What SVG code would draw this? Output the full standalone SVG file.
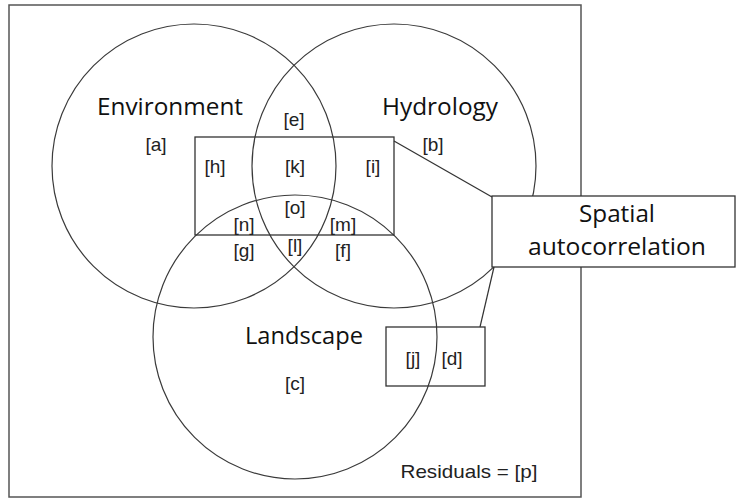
<svg xmlns="http://www.w3.org/2000/svg" width="740" height="498" viewBox="0 0 740 498">
  <style>
    .frame { fill: none; stroke: #555; stroke-width: 1.5; }
    .set { fill: none; stroke: #3a3a3a; stroke-width: 1.2; }
    .box { fill: none; stroke: #333; stroke-width: 1.3; }
    .callout { fill: #fff; stroke: #333; stroke-width: 1.3; }
    .link { fill: none; stroke: #333; stroke-width: 1.2; }
    .title { font-family: "Open Sans", "Noto Sans", sans-serif; font-size: 23px; fill: #111; text-anchor: middle; }
    .part { font-family: "Liberation Sans", Arial, sans-serif; font-size: 19px; fill: #222; text-anchor: middle; }
  </style>

  <rect width="740" height="498" fill="#fff"/>

  <!-- residual frame -->
  <g id="frame">
    <rect class="frame" x="9" y="5" width="572" height="492"/>
    <text class="part" x="469" y="478" textLength="137" lengthAdjust="spacingAndGlyphs">Residuals = [p]</text>
  </g>

  <!-- three sets -->
  <g id="environment">
    <circle class="set" cx="194" cy="166" r="142"/>
    <text class="title" x="170" y="115" textLength="146" lengthAdjust="spacingAndGlyphs">Environment</text>
    <text class="part" x="156" y="151">[a]</text>
  </g>
  <g id="hydrology">
    <circle class="set" cx="394" cy="166" r="142"/>
    <text class="title" x="440" y="115" textLength="116" lengthAdjust="spacingAndGlyphs">Hydrology</text>
    <text class="part" x="433" y="151">[b]</text>
  </g>
  <g id="landscape">
    <circle class="set" cx="295" cy="337" r="142"/>
    <text class="title" x="304" y="344" textLength="118" lengthAdjust="spacingAndGlyphs">Landscape</text>
    <text class="part" x="295" y="390">[c]</text>
  </g>

  <!-- intersection parts -->
  <g id="overlaps">
    <text class="part" x="294" y="126">[e]</text>
    <text class="part" x="244" y="257">[g]</text>
    <text class="part" x="343" y="257">[f]</text>
    <text class="part" x="295" y="252">[l]</text>
  </g>

  <!-- spatial region over the sets -->
  <g id="spatial-region">
    <rect class="box" x="195" y="137" width="199" height="98"/>
    <text class="part" x="215" y="173">[h]</text>
    <text class="part" x="295" y="173">[k]</text>
    <text class="part" x="373" y="173">[i]</text>
    <text class="part" x="295" y="214">[o]</text>
    <text class="part" x="244" y="231">[n]</text>
    <text class="part" x="343" y="231">[m]</text>
  </g>

  <g id="spatial-only">
    <rect class="box" x="386" y="327" width="99" height="59"/>
    <text class="part" x="413" y="365">[j]</text>
    <text class="part" x="452" y="365">[d]</text>
  </g>

  <!-- callout connectors -->
  <g id="connectors">
    <line class="link" x1="394" y1="141" x2="492" y2="197"/>
    <line class="link" x1="494" y1="267" x2="480" y2="327"/>
  </g>

  <g id="spatial-autocorrelation">
    <rect class="callout" x="492" y="196" width="243" height="71"/>
    <text class="title" x="617" y="222" textLength="76" lengthAdjust="spacingAndGlyphs">Spatial</text>
    <text class="title" x="617" y="255" textLength="178" lengthAdjust="spacingAndGlyphs">autocorrelation</text>
  </g>
</svg>
